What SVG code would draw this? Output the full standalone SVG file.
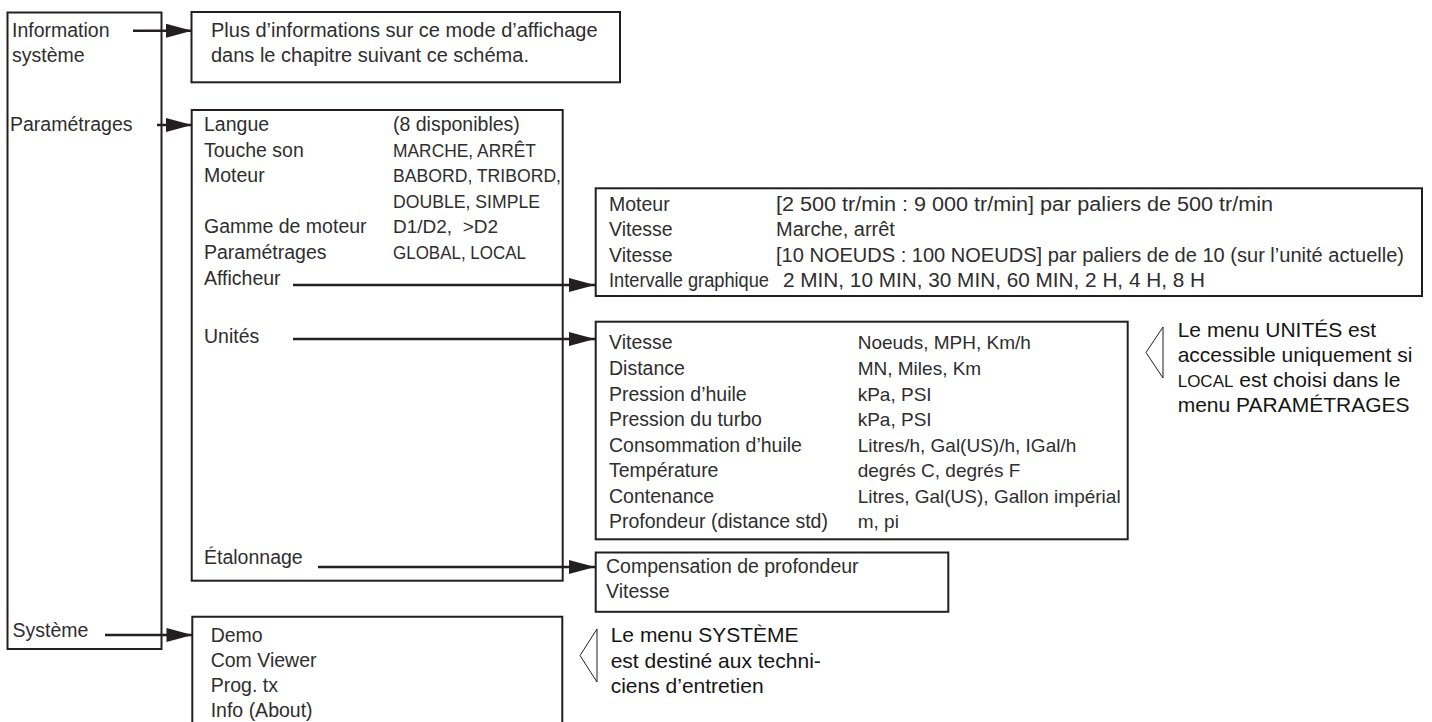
<svg xmlns="http://www.w3.org/2000/svg" width="1432" height="722" viewBox="0 0 1432 722">
<style>
.box{fill:none;stroke:#231f20;stroke-width:2}
.t{font-family:"Liberation Sans",Arial,sans-serif;font-size:19.5px;fill:#2e2e2e}
.s{font-size:18.5px}
.w{font-size:20px}
.u{font-size:19px}
.n{font-family:"Liberation Sans",Arial,sans-serif;font-size:21px;fill:#151515}
.c{stroke:#231f20;stroke-width:2.5;fill:none;marker-end:url(#ah)}
.tri{fill:none;stroke:#231f20;stroke-width:1}
</style>
<defs>
<marker id="ah" markerUnits="userSpaceOnUse" markerWidth="28" markerHeight="16" refX="26" refY="7" orient="auto" overflow="visible">
<path d="M0,0 L26,7 L0,14 z" fill="#231f20"/>
</marker>
</defs>
<rect width="1432" height="722" fill="#fff"/>

<g id="menu-principal">
<rect class="box" x="7.5" y="12.5" width="154" height="636.5"/>
<text class="t" x="12" y="36.7">Information</text>
<text class="t" x="12" y="61.5">système</text>
<text class="t" x="10" y="130.7">Paramétrages</text>
<text class="t" x="12.5" y="636.7">Système</text>
</g>

<g id="info-systeme">
<rect class="box" x="191.5" y="12" width="428.5" height="70.3"/>
<text class="t w" x="211" y="36.7">Plus d’informations sur ce mode d’affichage</text>
<text class="t w" x="211" y="61.5">dans le chapitre suivant ce schéma.</text>
</g>

<g id="parametrages">
<rect class="box" x="191.7" y="110" width="371" height="470.7"/>
<text class="t" x="204" y="131">Langue</text>
<text class="t" x="393" y="131">(8 disponibles)</text>
<text class="t" x="204" y="156.5">Touche son</text>
<text class="t s" x="393" y="156.5" textLength="143" lengthAdjust="spacingAndGlyphs">MARCHE, ARRÊT</text>
<text class="t" x="204" y="182">Moteur</text>
<text class="t s" x="393" y="182" textLength="168" lengthAdjust="spacingAndGlyphs">BABORD, TRIBORD,</text>
<text class="t s" x="393" y="207.5" textLength="147" lengthAdjust="spacingAndGlyphs">DOUBLE, SIMPLE</text>
<text class="t" x="204" y="233">Gamme de moteur</text>
<text class="t s" x="393" y="233" textLength="105" lengthAdjust="spacingAndGlyphs" xml:space="preserve">D1/D2,  &gt;D2</text>
<text class="t" x="204" y="258.5">Paramétrages</text>
<text class="t s" x="393" y="258.5" textLength="133" lengthAdjust="spacingAndGlyphs">GLOBAL, LOCAL</text>
<text class="t" x="204" y="284.5">Afficheur</text>
<text class="t" x="204" y="343">Unités</text>
<text class="t" x="204" y="563.5">Étalonnage</text>
</g>

<g id="afficheur">
<rect class="box" x="595.7" y="188.3" width="826.3" height="107.7"/>
<text class="t" x="609" y="211">Moteur</text>
<text class="t w" x="776" y="211" textLength="497" lengthAdjust="spacingAndGlyphs">[2 500 tr/min : 9 000 tr/min] par paliers de 500 tr/min</text>
<text class="t" x="609" y="236">Vitesse</text>
<text class="t w" x="776" y="236">Marche, arrêt</text>
<text class="t" x="609" y="261.5">Vitesse</text>
<text class="t w" x="776" y="261.5" textLength="628" lengthAdjust="spacingAndGlyphs">[10 NOEUDS : 100 NOEUDS] par paliers de de 10 (sur l’unité actuelle)</text>
<text class="t" x="609" y="287" textLength="160" lengthAdjust="spacingAndGlyphs">Intervalle graphique</text>
<text class="t w" x="783" y="287" textLength="422" lengthAdjust="spacingAndGlyphs">2 MIN, 10 MIN, 30 MIN, 60 MIN, 2 H, 4 H, 8 H</text>
</g>

<g id="unites">
<rect class="box" x="595.7" y="321.7" width="532" height="217.6"/>
<text class="t" x="609" y="349.3">Vitesse</text>
<text class="t u" x="857.7" y="349.3">Noeuds, MPH, Km/h</text>
<text class="t" x="609" y="375">Distance</text>
<text class="t u" x="857.7" y="375">MN, Miles, Km</text>
<text class="t" x="609" y="400.5">Pression d’huile</text>
<text class="t u" x="857.7" y="400.5">kPa, PSI</text>
<text class="t" x="609" y="426">Pression du turbo</text>
<text class="t u" x="857.7" y="426">kPa, PSI</text>
<text class="t" x="609" y="451.5">Consommation d’huile</text>
<text class="t u" x="857.7" y="451.5">Litres/h, Gal(US)/h, IGal/h</text>
<text class="t" x="609" y="477">Température</text>
<text class="t u" x="857.7" y="477">degrés C, degrés F</text>
<text class="t" x="609" y="502.5">Contenance</text>
<text class="t u" x="857.7" y="502.5">Litres, Gal(US), Gallon impérial</text>
<text class="t" x="609" y="528">Profondeur (distance std)</text>
<text class="t u" x="857.7" y="528">m, pi</text>
</g>

<g id="etalonnage">
<rect class="box" x="595.7" y="552.5" width="352.6" height="59.3"/>
<text class="t" x="606" y="573.3">Compensation de profondeur</text>
<text class="t" x="606" y="598.3">Vitesse</text>
</g>

<g id="systeme">
<path class="box" d="M192.3,724 V616.7 H562.3 V724"/>
<text class="t" x="210.7" y="641.7">Demo</text>
<text class="t" x="210.7" y="666.7">Com Viewer</text>
<text class="t" x="210.7" y="691.7">Prog. tx</text>
<text class="t" x="210.7" y="716.7">Info (About)</text>
</g>

<g id="note-unites">
<polygon class="tri" points="1163,327 1146,352.5 1163,378"/>
<text class="n" x="1177.7" y="336.7">Le menu UNITÉS est</text>
<text class="n" x="1177.7" y="361.7">accessible uniquement si</text>
<text class="n" x="1177.7" y="387"><tspan font-size="17px">LOCAL</tspan> est choisi dans le</text>
<text class="n" x="1177.7" y="412">menu PARAMÉTRAGES</text>
</g>

<g id="note-systeme">
<polygon class="tri" points="597,629 580,655.5 597,682"/>
<text class="n" x="610.7" y="641.7">Le menu SYSTÈME</text>
<text class="n" x="610.7" y="667.5">est destiné aux techni-</text>
<text class="n" x="610.7" y="693.3">ciens d’entretien</text>
</g>

<g id="connecteurs">
<path class="c" d="M133,30.7 H192"/>
<path class="c" d="M157,125 H192"/>
<path class="c" d="M293,285 H595"/>
<path class="c" d="M293,339 H595"/>
<path class="c" d="M318,567 H595"/>
<path class="c" d="M105,635 H192.5"/>
</g>
</svg>
